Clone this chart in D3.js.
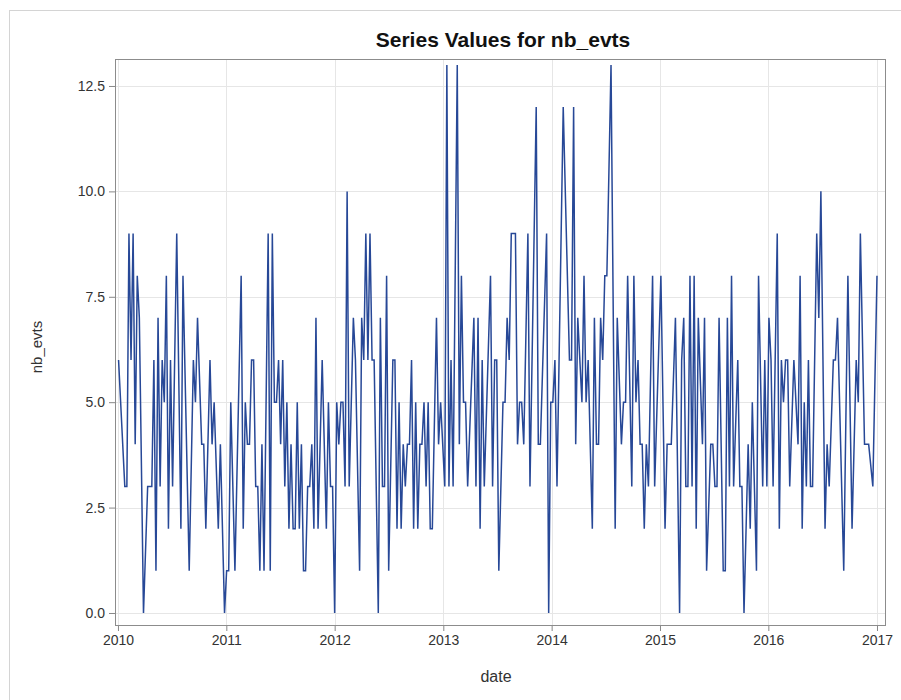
<!DOCTYPE html>
<html>
<head>
<meta charset="utf-8">
<script src="https://cdn.jsdelivr.net/npm/d3@7"></script>
<style>
  html, body { margin: 0; padding: 0; background: #fff; }
  svg { display: block; font-family: "Liberation Sans", Arial, sans-serif; }
</style>
</head>
<body>
<svg id="chart" width="901" height="700"></svg>
<script>
// Weekly event counts: week number counted from the first week of 2010, and the count
const weekIndex = [
  0, 3, 4, 5, 6, 7, 8, 9, 10, 12, 14, 15, 16, 17, 18, 19, 20, 21, 22, 23, 24, 25, 26, 28, 30, 31, 34,
  36, 37, 38, 40, 41, 42, 44, 45, 46, 48, 49, 51, 52, 53, 54, 56, 59, 60, 61, 62, 63, 64, 65, 66, 67, 68, 69, 70, 72,
  73, 74, 75, 76, 77, 78, 79, 80, 81, 82, 83, 84, 85, 86, 87, 88, 89, 90, 91, 92, 93, 94, 95, 96, 98,
  100, 101, 102, 103, 104, 105, 106, 107, 108, 109, 110,
  111, 113, 114, 116, 117, 118, 119, 120, 121, 122, 123, 125, 126, 127, 128, 129, 130, 132, 133, 134, 135,
  136, 137, 138, 139, 140, 141, 142, 143, 144, 145, 146, 147, 148, 149,
  150, 151, 153, 154, 155, 157, 158, 159, 160, 161, 163, 164, 165, 166, 167, 168, 171, 172, 173, 174, 175,
  176, 179, 180, 181, 182, 183, 185, 186, 187, 188,
  189, 191, 192, 193, 194, 195, 197, 198, 201, 202, 203, 206, 207, 208, 209, 210, 211, 214, 217, 218, 219,
  220, 221, 223, 224, 225, 226,
  228, 229, 230, 231, 232, 233, 234, 235, 237, 239, 240, 242, 243, 244, 245, 247, 248, 249, 250, 251, 252,
  253, 254, 255, 257, 258, 261, 263, 264,
  266, 268, 270, 271, 272, 273, 274, 275, 276, 277, 278, 279, 281, 282, 283, 285, 286, 287, 288, 289, 291,
  292, 293, 294, 295, 296, 298, 299, 300, 301, 303,
  304, 305, 307, 308, 310, 311, 312, 313, 314, 315, 317, 318, 319, 320, 321, 322, 323, 325, 327, 328, 329,
  330, 331, 332, 333, 334, 336, 337, 338, 340, 341, 342, 344, 345, 346, 349, 351, 353, 355, 356, 357, 359,
  361, 363, 365
];
const nbEvts = [
  6, 3, 3, 9, 6, 9, 4, 8, 7, 0, 3, 3, 3, 6, 1, 7, 3, 6, 5, 8, 2, 6, 3, 9, 2, 8, 1,
  6, 5, 7, 4, 4, 2, 6, 4, 5, 2, 4, 0, 1, 1, 5, 1, 8, 2, 5, 4, 4, 6, 6, 3, 3, 1, 4, 1, 9,
  1, 9, 5, 5, 6, 4, 6, 3, 5, 2, 4, 2, 2, 5, 2, 4, 1, 1, 3, 3, 4, 2, 7, 2, 6,
  2, 5, 3, 3, 0, 5, 4, 5, 5, 3, 10,
  3, 7, 6, 1, 7, 6, 9, 6, 9, 6, 6, 0, 7, 3, 3, 8, 1, 6, 6, 2, 5,
  2, 4, 3, 4, 4, 6, 2, 5, 2, 4, 4, 5, 3, 5,
  2, 2, 7, 4, 5, 3, 13, 3, 6, 3, 13, 4, 8, 5, 5, 3, 7, 3, 7, 2, 6,
  3, 8, 3, 6, 6, 1, 5, 5, 7, 6,
  9, 9, 4, 5, 5, 4, 9, 3, 12, 4, 4, 9, 0, 5, 5, 6, 3, 12, 6, 6, 12,
  4, 7, 5, 8, 5, 6,
  2, 7, 4, 4, 7, 6, 8, 8, 13, 2, 7, 4, 5, 5, 8, 3, 8, 5, 6, 4, 4,
  2, 4, 3, 8, 3, 8, 2, 4,
  4, 7, 0, 6, 7, 3, 3, 8, 3, 8, 2, 7, 4, 7, 1, 4, 4, 3, 3, 7, 1,
  1, 7, 3, 8, 3, 6, 3, 3, 0, 4,
  2, 5, 1, 8, 3, 6, 3, 7, 6, 3, 9, 2, 6, 5, 6, 6, 3, 6, 4, 8, 2,
  5, 3, 6, 3, 3, 9, 7, 10, 2, 4, 3, 6, 6, 7, 1, 8, 2, 6, 5, 9, 4,
  4, 3, 8
];
const yTickValues = [0, 2.5, 5, 7.5, 10, 12.5];
const yearTicks = ["2010", "2011", "2012", "2013", "2014", "2015", "2016", "2017"];

const firstWeek = new Date(2010, 0, 3);
const series = weekIndex.map((w, i) => ({ date: d3.timeDay.offset(firstWeek, 7 * w), value: nbEvts[i] }));

const svg = d3.select("#chart");
const frame = { left: 115, right: 885, top: 59, bottom: 625 };

const x = d3.scaleTime()
  .domain([new Date(2009, 11, 22), new Date(2017, 0, 28)])
  .range([frame.left, frame.right]);
const y = d3.scaleLinear()
  .domain([-0.285, 13.14])
  .range([frame.bottom, frame.top]);

const yearDates = yearTicks.map(s => new Date(+s, 0, 1));

// outer border of the graph area
svg.append("rect")
  .attr("x", 9.5).attr("y", 10.5).attr("width", 900).attr("height", 700)
  .attr("fill", "none").attr("stroke", "#d4d4d4");

// grid lines
const grid = svg.append("g").attr("stroke", "#e6e6e6").attr("stroke-width", 1);
grid.selectAll("line.h").data(yTickValues).join("line")
  .attr("x1", frame.left).attr("x2", frame.right)
  .attr("y1", d => Math.round(y(d)) + 0.5).attr("y2", d => Math.round(y(d)) + 0.5);
grid.selectAll("line.v").data(yearDates).join("line")
  .attr("y1", frame.top).attr("y2", frame.bottom)
  .attr("x1", d => Math.round(x(d)) + 0.5).attr("x2", d => Math.round(x(d)) + 0.5);

// series line
const line = d3.line().x(d => x(d.date)).y(d => y(d.value));
svg.append("path")
  .datum(series)
  .attr("d", line)
  .attr("fill", "none")
  .attr("stroke", "#274897")
  .attr("stroke-width", 1.5)
  .attr("stroke-linejoin", "miter");

// axes
const yAxis = d3.axisLeft(y).tickValues(yTickValues).tickFormat(d3.format(".1f")).tickSize(6).tickPadding(4);
const xAxis = d3.axisBottom(x).tickValues(yearDates).tickFormat(d3.timeFormat("%Y")).tickSize(6).tickPadding(4);

const gy = svg.append("g").attr("transform", `translate(${frame.left},0)`).call(yAxis);
const gx = svg.append("g").attr("transform", `translate(0,${frame.bottom})`).call(xAxis);
[gy, gx].forEach(g => {
  g.select(".domain").remove();
  g.selectAll(".tick line").attr("stroke", "#888");
  g.selectAll(".tick text").attr("fill", "#333").style("font-size", "14px")
    .style("font-family", "'Liberation Sans', Arial, sans-serif");
});

// plot frame
svg.append("rect")
  .attr("x", frame.left + 0.5).attr("y", frame.top + 0.5)
  .attr("width", frame.right - frame.left).attr("height", frame.bottom - frame.top)
  .attr("fill", "none").attr("stroke", "#8c8c8c");

// titles
svg.append("text")
  .attr("x", 503).attr("y", 47)
  .attr("text-anchor", "middle")
  .style("font-size", "21px").style("font-weight", "bold").attr("fill", "#111")
  .text("Series Values for nb_evts");
svg.append("text")
  .attr("transform", "translate(42,347) rotate(-90)")
  .attr("text-anchor", "middle")
  .style("font-size", "15px").attr("fill", "#333")
  .text("nb_evts");
svg.append("text")
  .attr("x", 496).attr("y", 682)
  .attr("text-anchor", "middle")
  .style("font-size", "16px").attr("fill", "#333")
  .text("date");
</script>
</body>
</html>
